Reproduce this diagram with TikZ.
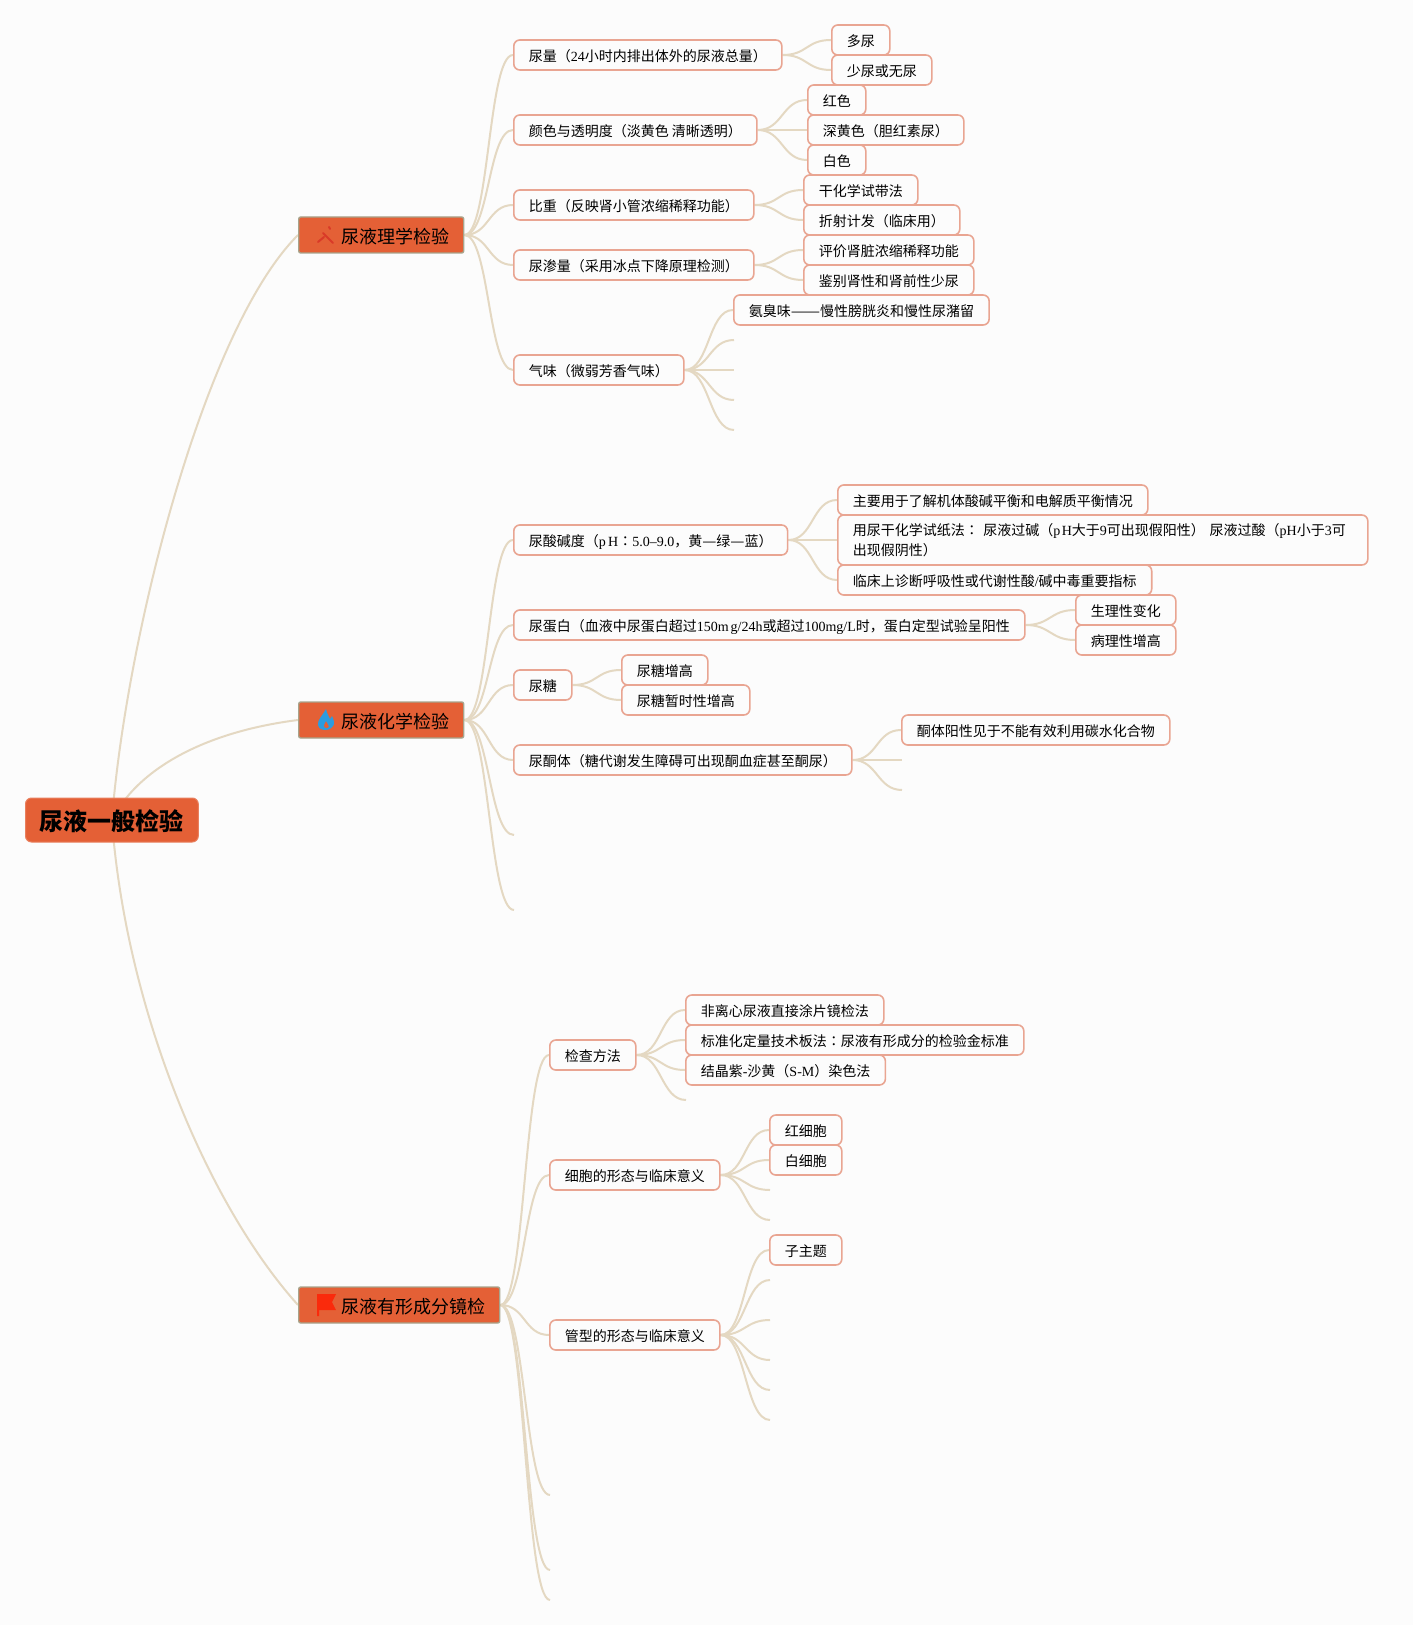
\documentclass[tikz,border=0pt]{standalone}
\usepackage{fontspec}
\usepackage{graphicx}
\setmainfont{Noto Sans CJK SC}
\newfontfamily\latfont{Liberation Serif}
\newfontfamily\midfont{Noto Sans CJK TC}
\newcommand{\lat}[1]{{\latfont #1}}
\newcommand{\midcolon}{{\midfont ：}}
\usetikzlibrary{backgrounds}
\definecolor{pagebg}{HTML}{FCFCFC}
\definecolor{rootfill}{HTML}{E46036}
\definecolor{topicline}{HTML}{A8A48C}
\definecolor{subline}{HTML}{E9A592}
\definecolor{branchline}{HTML}{E4D8C2}
\definecolor{toolred}{HTML}{D93A28}
\definecolor{flameblue}{HTML}{2C9CDF}
\definecolor{flagred}{HTML}{FA2A0C}
\tikzset{
    rootbox/.style={fill=rootfill,draw=rootfill!80!white,line width=.5pt,rounded corners=3pt,minimum height=22pt,inner xsep=7.2pt,inner ysep=0pt,font=\fontsize{12}{14}\bfseries,text height=10.5pt,text depth=0pt,anchor=west},
    topicbox/.style={fill=rootfill,draw=topicline,line width=.7pt,rounded corners=1pt,minimum height=18pt,inner xsep=7pt,inner ysep=0pt,font=\fontsize{9}{11}\selectfont,text height=8.5pt,text depth=0pt,anchor=west},
    subbox/.style={fill=pagebg,draw=subline,line width=.8pt,rounded corners=3pt,minimum height=15pt,inner xsep=7.5pt,inner ysep=0pt,font=\fontsize{7}{10}\selectfont,text height=6.5pt,text depth=0pt,anchor=west,align=left},
    branch/.style={draw=branchline,line width=1pt}
}
\begin{document}
\begin{tikzpicture}[x=.5pt,y=-.5pt]
    \node (root) at (25,820)[rootbox]{尿液一般检验};
    \node (topA) at (298,235)[topicbox]{\hspace*{14.5pt}尿液理学检验};
    \node (topB) at (298,720)[topicbox]{\hspace*{14.5pt}尿液化学检验};
    \node (topC) at (298,1305)[topicbox]{\hspace*{14.5pt}尿液有形成分镜检};

    \node (vol) at (513,55)[subbox]{尿量（\lat{24}小时内排出体外的尿液总量）};
    \node (volA) at (831,40)[subbox]{多尿};
    \node (volB) at (831,70)[subbox]{少尿或无尿};
    \node (col) at (513,130)[subbox]{颜色与透明度（淡黄色 清晰透明）};
    \node (colA) at (807,100)[subbox]{红色};
    \node (colB) at (807,130)[subbox]{深黄色（胆红素尿）};
    \node (colC) at (807,160)[subbox]{白色};
    \node (grav) at (513,205)[subbox]{比重（反映肾小管浓缩稀释功能）};
    \node (gravA) at (803,190)[subbox]{干化学试带法};
    \node (gravB) at (803,220)[subbox]{折射计发（临床用）};
    \node (osm) at (513,265)[subbox]{尿渗量（采用冰点下降原理检测）};
    \node (osmA) at (803,250)[subbox]{评价肾脏浓缩稀释功能};
    \node (osmB) at (803,280)[subbox]{鉴别肾性和肾前性少尿};
    \node (odor) at (513,370)[subbox]{气味（微弱芳香气味）};
    \node (odorA) at (733,310)[subbox]{氨臭味\scalebox{1.25}[1]{——}慢性膀胱炎和慢性尿潴留};
    \coordinate (odorB) at (734,340);
    \coordinate (odorC) at (734,370);
    \coordinate (odorD) at (734,400);
    \coordinate (odorE) at (734,430);

    \node (acid) at (513,540)[subbox]{尿酸碱度（\lat{p\kern1.2pt H}\midcolon\lat{5.0–9.0}，黄\scalebox{1.13}[1]{—}绿\scalebox{1.13}[1]{—}蓝）};
    \node (acidA) at (837,500)[subbox]{主要用于了解机体酸碱平衡和电解质平衡情况};
    \node (acidB) at (837,540)[subbox,minimum height=25pt,text width=250pt,text height=,text depth=]{用尿干化学试纸法\midcolon{} 尿液过碱（\lat{p\kern.7pt H}大于\lat{9}可出现假阳性） 尿液过酸（\lat{pH}小于\lat{3}可\\出现假阴性）};
    \node (acidC) at (837,580)[subbox]{临床上诊断呼吸性或代谢性酸\lat{/}碱中毒重要指标};
    \node (prot) at (513,625)[subbox]{尿蛋白（血液中尿蛋白超过\lat{150m\kern1pt g/24h}或超过\lat{100mg/L}时，蛋白定型试验呈阳性};
    \node (protA) at (1075,610)[subbox]{生理性变化};
    \node (protB) at (1075,640)[subbox]{病理性增高};
    \node (sugar) at (513,685)[subbox]{尿糖};
    \node (sugarA) at (621,670)[subbox]{尿糖增高};
    \node (sugarB) at (621,700)[subbox]{尿糖暂时性增高};
    \node (ket) at (513,760)[subbox]{尿酮体（糖代谢发生障碍可出现酮血症甚至酮尿）};
    \node (ketA) at (901,730)[subbox]{酮体阳性见于不能有效利用碳水化合物};
    \coordinate (ketB) at (902,760);
    \coordinate (ketC) at (902,790);
    \coordinate (chemE) at (514,835);
    \coordinate (chemF) at (514,910);

    \node (meth) at (549,1055)[subbox]{检查方法};
    \node (methA) at (685,1010)[subbox]{非离心尿液直接涂片镜检法};
    \node (methB) at (685,1040)[subbox]{标准化定量技术板法\midcolon 尿液有形成分的检验金标准};
    \node (methC) at (685,1070)[subbox]{结晶紫\lat{-}沙黄（\lat{S-M}）染色法};
    \coordinate (methD) at (686,1100);
    \node (cell) at (549,1175)[subbox]{细胞的形态与临床意义};
    \node (cellA) at (769,1130)[subbox]{红细胞};
    \node (cellB) at (769,1160)[subbox]{白细胞};
    \coordinate (cellC) at (770,1190);
    \coordinate (cellD) at (770,1220);
    \node (cast) at (549,1335)[subbox]{管型的形态与临床意义};
    \node (castA) at (769,1250)[subbox]{子主题};
    \coordinate (castB) at (770,1280);
    \coordinate (castC) at (770,1320);
    \coordinate (castD) at (770,1360);
    \coordinate (castE) at (770,1390);
    \coordinate (castF) at (770,1420);
    \coordinate (micD) at (550,1495);
    \coordinate (micE) at (550,1570);
    \coordinate (micF) at (550,1600);

    % red tools, blue flame and flag in front of the topic titles
    \draw[line width=1pt,toolred,line cap=round] (323,233)--(333,243) (318,242)--(324,237) (329,227)--(330,229);
    \fill[flameblue,even odd rule] (326,709) .. controls (327,714) and (329,716) .. (330,719) .. controls (331,717) and (332,717) .. (332,716) .. controls (334,720) and (335,724) .. (333,726) .. controls (331,729) and (328,730) .. (326,730) .. controls (322,730) and (319,729) .. (318,725) .. controls (317,720) and (323,715) .. (326,709)
        (326,721) .. controls (325,724) and (323,725) .. (324,727) .. controls (325,729) and (328,729) .. (329,727) .. controls (329,725) and (327,723) .. (326,721);
    \fill[flagred] (317,1294)--(336,1294)--(332,1302)--(336,1310)--(319,1310)--(319,1316)--(317,1316)--cycle;

    \begin{scope}[on background layer]
        \fill[pagebg] (0,0) rectangle (1413,1625);
        \draw[branch] (root.center) .. controls +(14,-180) and +(-95,95) .. (topA.west);
        \draw[branch] (root.center) .. controls +(25,-50) and +(-95,12) .. (topB.west);
        \draw[branch] (root.center) .. controls +(14,190) and +(-90,-100) .. (topC.west);
        \foreach \a/\b in {topA/vol,topA/col,topA/grav,topA/osm,topA/odor,vol/volA,vol/volB,col/colA,col/colB,col/colC,grav/gravA,grav/gravB,osm/osmA,osm/osmB,odor/odorA,topB/acid,topB/prot,topB/sugar,topB/ket,acid/acidA,acid/acidB,acid/acidC,prot/protA,prot/protB,sugar/sugarA,sugar/sugarB,ket/ketA,topC/meth,topC/cell,topC/cast,meth/methA,meth/methB,meth/methC,cell/cellA,cell/cellB,cast/castA}
        {
            \draw[branch] (\a.east) .. controls +(25,0) and +(-25,0) .. (\b.west);
        }
        \foreach \a/\b in {odor/odorB,odor/odorC,odor/odorD,odor/odorE,ket/ketB,ket/ketC,topB/chemE,topB/chemF,meth/methD,cell/cellC,cell/cellD,cast/castB,cast/castC,cast/castD,cast/castE,cast/castF,topC/micD,topC/micE,topC/micF}
        {
            \draw[branch] (\a.east) .. controls +(25,0) and +(-25,0) .. (\b);
        }
    \end{scope}
\end{tikzpicture}
\end{document}
